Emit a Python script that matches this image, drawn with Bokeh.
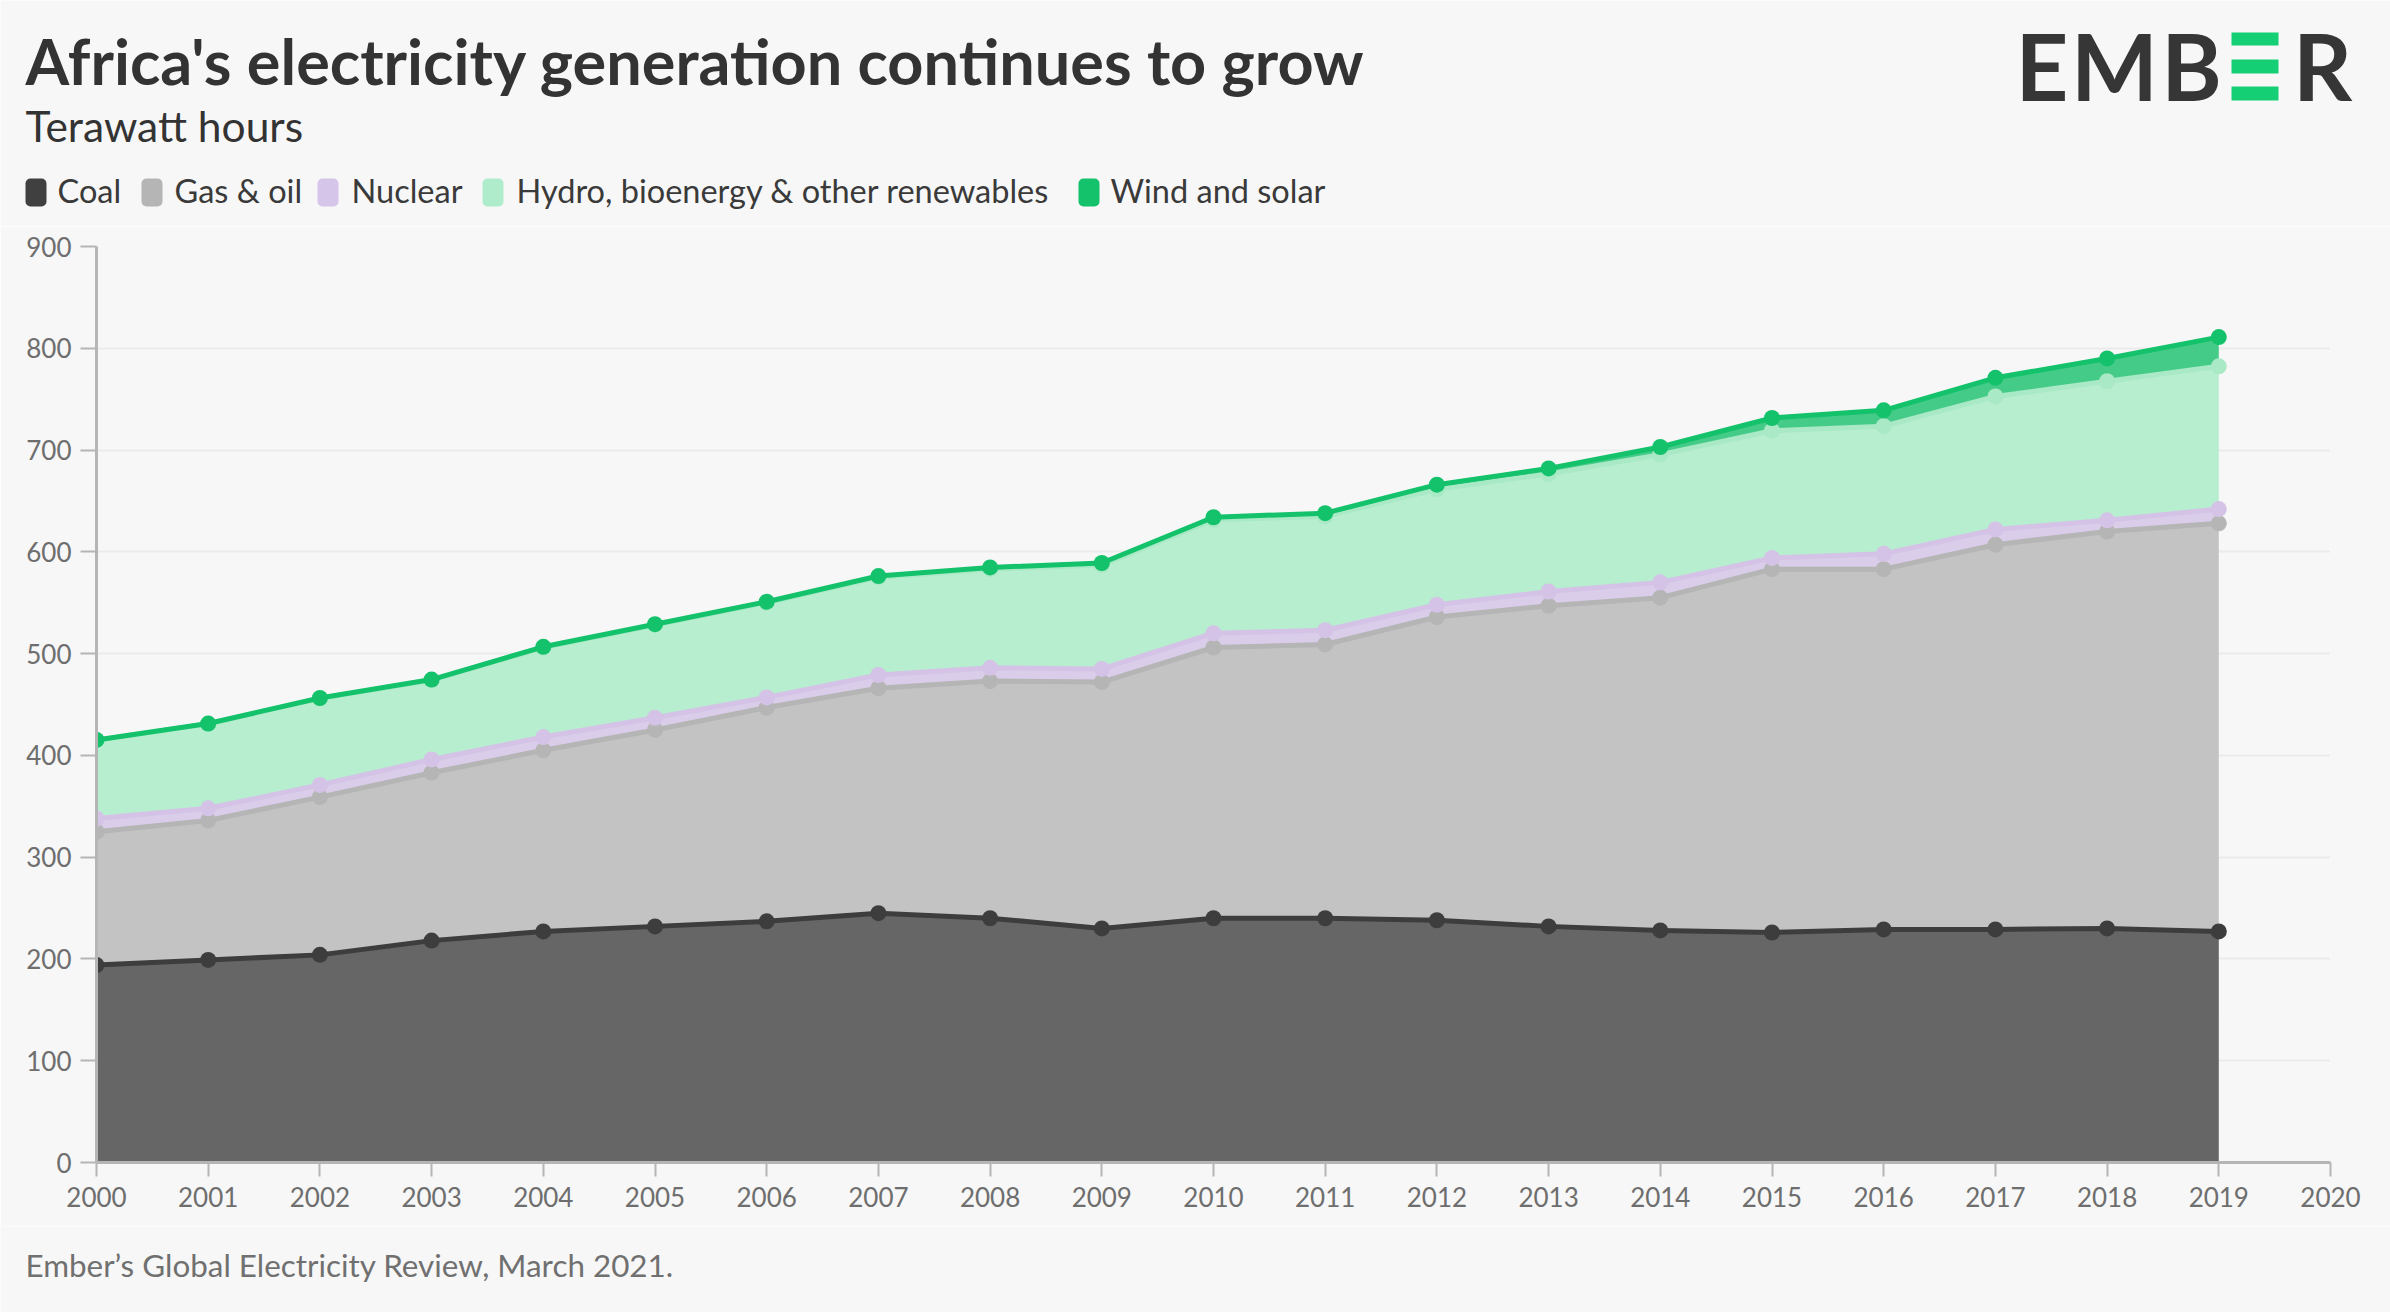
import numpy as np
from bokeh.plotting import figure
from bokeh.models import FixedTicker, Range1d
from bokeh.layouts import column
from bokeh.core.properties import value
from bokeh.embed import file_html
from bokeh.resources import INLINE

# ---------------- data (TWh) ----------------
years = list(range(2000, 2020))
coal = [194, 199, 204, 218, 227, 232, 237, 245, 240, 230, 240, 240, 238, 232, 228, 226, 229, 229, 230, 227]
gas_oil = [131, 137, 155, 165, 178, 193, 210, 221, 233, 242, 266, 269, 298, 315, 327, 357, 354, 378, 390, 401]
nuclear = [13, 12, 12, 13, 13, 12, 10, 13, 13, 13, 14, 14, 12, 14, 15, 11, 15, 15, 11, 14]
hydro_bio_other = [77, 83, 85, 78, 88, 91, 93, 96, 97, 102, 111.5, 111.8, 113.5, 115.5, 125.5, 125, 125.5, 130.7, 136.6, 140.3]
wind_solar = [0.2, 0.3, 0.4, 0.5, 0.7, 0.9, 1.0, 1.2, 1.7, 2.0, 2.5, 3.2, 4.5, 5.5, 7.5, 12.5, 15.5, 18.3, 22.4, 28.7]

series_names = ["Coal", "Gas & oil", "Nuclear", "Hydro, bioenergy & other renewables", "Wind and solar"]
x_ticks = list(range(2000, 2021))
y_ticks = list(range(0, 1000, 100))

title_text = "Africa's electricity generation continues to grow"
subtitle_text = "Terawatt hours"
source_text = "Ember\u2019s Global Electricity Review, March 2021."

# ---------------- styles ----------------
area_colors = ["#666666", "#c3c3c3", "#dacdea", "#b7eecf", "#45cb88"]
line_colors = ["#3d3d3d", "#b5b5b5", "#d4c3e6", "#a9e9c6", "#13c26b"]
swatch_colors = ["#404040", "#b5b5b5", "#d5c5e8", "#aeeccb", "#13c26b"]
BG = "#f7f7f7"
FONT = "Lato"
W = 2390
HH, HM, HF = 226, 1000, 86      # header / main / footer heights
FL, FT, FR, FB = 96, 20, 60, 64  # main borders
K = 0.38                         # baseline correction factor (fraction of font size)


def no_align(f):
    try:
        f.frame_align = False
    except Exception:
        pass


def blank(height):
    f = figure(width=W, height=height, x_range=Range1d(0, W), y_range=Range1d(height, 0),
               output_backend="svg", toolbar_location=None, min_border=0,
               x_axis_type=None, y_axis_type=None)
    f.title = None
    f.grid.visible = False
    f.outline_line_color = None
    f.background_fill_color = BG
    f.border_fill_color = BG
    no_align(f)
    return f


def put_text(f, x, baseline, txt, size, color, bold=False, align="left"):
    f.text(x=[x], y=[baseline - K * size], text=[txt], text_font=value(FONT),
           text_font_style="bold" if bold else "normal", text_font_size=f"{size}px",
           text_color=color, text_align=align, text_baseline="alphabetic")


# ---------------- header ----------------
hdr = blank(HH)
put_text(hdr, 25, 84, title_text, 63, "#333333", bold=True)
put_text(hdr, 25, 141, subtitle_text, 42.5, "#333333")

sw_left = [25, 141, 317, 482, 1078]
tx_left = [57, 174, 351, 516, 1110]
for i, name in enumerate(series_names):
    kw = dict(left=sw_left[i], right=sw_left[i] + 21, top=178, bottom=206,
              fill_color=swatch_colors[i], line_color=None)
    try:
        hdr.quad(border_radius=5, **kw)
    except Exception:
        hdr.quad(**kw)
    put_text(hdr, tx_left[i], 202, name, 32.5, "#3a3a3a")

logo_dark = "#363636"
logo_green = "#14cf74"
for ch, cx in (("E", 2041.5), ("M", 2114), ("B", 2191), ("R", 2322)):
    put_text(hdr, cx, 100, ch, 92, logo_dark, bold=True, align="center")
for (t, b) in ((32, 45), (59, 73), (86, 100)):
    hdr.quad(left=2231, right=2278, top=t, bottom=b, fill_color=logo_green, line_color=None)

# ---------------- main chart ----------------
p = figure(width=W, height=HM, x_range=(2000, 2020), y_range=(0, 900),
           output_backend="svg", toolbar_location=None,
           min_border_left=FL, min_border_right=FR, min_border_top=FT, min_border_bottom=FB)
p.title = None
p.background_fill_color = BG
p.border_fill_color = BG
p.outline_line_color = None
no_align(p)

values = np.array([coal, gas_oil, nuclear, hydro_bio_other, wind_solar], dtype=float)
tops = np.cumsum(values, axis=0)
bottoms = np.vstack([np.zeros(len(years)), tops[:-1]])

for i in range(len(series_names)):
    p.varea(x=years, y1=bottoms[i], y2=tops[i], fill_color=area_colors[i], fill_alpha=1.0)
for i in range(len(series_names)):
    p.line(x=years, y=tops[i], line_color=line_colors[i], line_width=5, line_join="round")
    p.scatter(x=years, y=tops[i], size=16, fill_color=line_colors[i], line_color=None)

p.xgrid.visible = False
p.ygrid.grid_line_color = "#ebebeb"
p.ygrid.grid_line_width = 2

for ax in (p.xaxis[0], p.yaxis[0]):
    ax.axis_line_color = "#b5b5b5"
    ax.axis_line_width = 3
    ax.major_tick_line_color = "#b5b5b5"
    ax.major_tick_line_width = 2
    ax.major_tick_in = 0
    ax.minor_tick_line_color = None
    ax.major_label_text_font = FONT
    ax.major_label_text_font_size = "26px"
    ax.major_label_text_color = "#6e6e6e"

p.xaxis.ticker = FixedTicker(ticks=x_ticks)
p.yaxis.ticker = FixedTicker(ticks=y_ticks)
p.xaxis.major_tick_out = 14
p.xaxis.major_label_standoff = 10
p.yaxis.major_tick_out = 16
p.yaxis.major_label_standoff = 9

# ---------------- footer ----------------
ftr = blank(HF)
put_text(ftr, 25, 50, source_text, 31.4, "#707070")

layout = column(hdr, p, ftr, spacing=0)
open("out.html", "w").write(file_html(layout, INLINE))
